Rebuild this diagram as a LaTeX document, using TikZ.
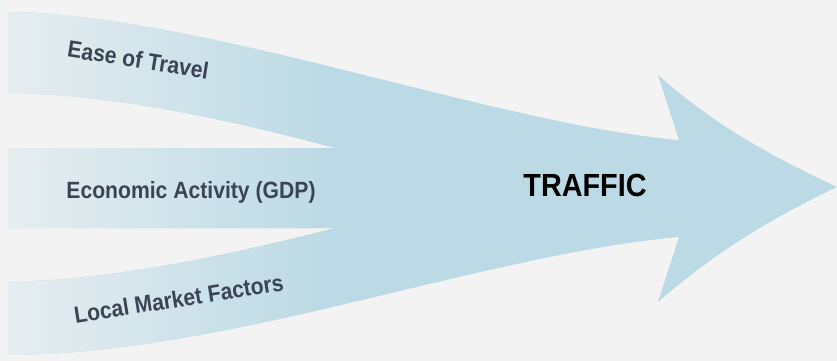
\documentclass[tikz,border=0pt]{standalone}
\usepackage{fontspec}
\newfontfamily\lblfont[FakeStretch=0.9]{Liberation Sans}
\usetikzlibrary{calc}
\usetikzlibrary{positioning}
\definecolor{bgray}{HTML}{F3F3F3}
\definecolor{flow}{HTML}{BCDAE5}
\definecolor{flowfade}{HTML}{E6EDF0}
\definecolor{slate}{HTML}{3A4455}

\begin{document}
\begin{tikzpicture}[x=1pt,y=-1pt,
    flowlabel/.style={font=\lblfont\bfseries\fontsize{23.5}{28}\selectfont,text=slate,inner sep=0pt,anchor=base}]
        \fill[bgray] (0,0) rectangle (837,361);
        % three flows merging into one arrow, fading in from the left
        \path[fill=flow,path picture={
            \foreach \i in {0,...,39} {
              \pgfmathtruncatemacro\pct{100*\i/39}
              \fill[flow!\pct!flowfade] ({8+8*\i},0) rectangle ({17+8*\i},361);
            }}]
        (8,12) .. controls (200,14) and (500,125) .. (679,140)
        -- (658,75) .. controls (720,130) and (780,160) .. (837,187)
        .. controls (780,214) and (720,248) .. (658,302) -- (679,237)
        .. controls (480,255) and (230,354) .. (8,355)
        -- (8,282) .. controls (120,280) and (250,250) .. (335,228)
        -- (8,228) -- (8,148) -- (335,148)
        .. controls (250,125) and (120,94) .. (8,93) -- cycle;
        \node[flowlabel,rotate=-9] (ease) at (137,68) {Ease of Travel};
        \node[flowlabel] (gdp) at (191,198) {Economic Activity (GDP)};
        \node[flowlabel,rotate=9] (local) at (180,307) {Local Market Factors};
        \node[flowlabel,text=black,font=\lblfont\bfseries\fontsize{32}{36}\selectfont] (traffic) at (585,196) {TRAFFIC};
      \end{tikzpicture}
\end{document}
